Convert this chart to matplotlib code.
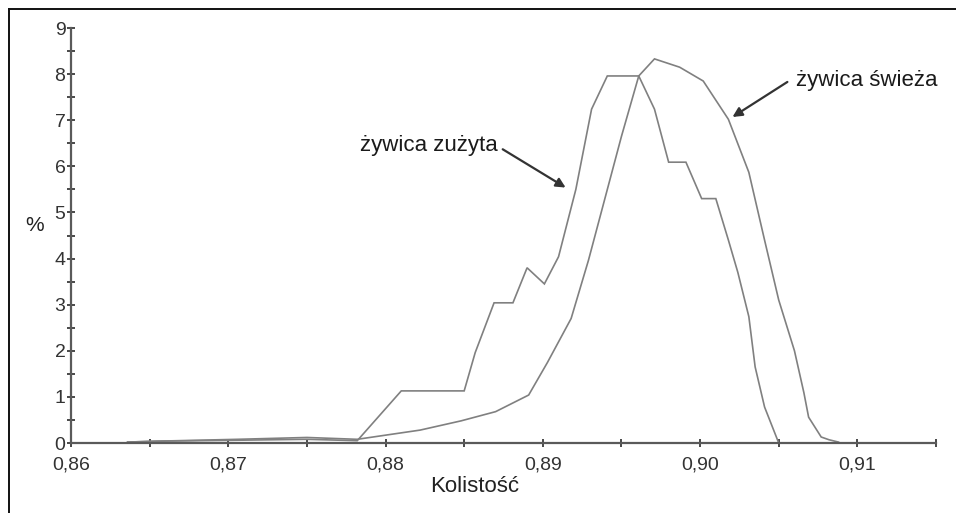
import matplotlib
matplotlib.use("Agg")
import matplotlib.pyplot as plt
from matplotlib.lines import Line2D
from matplotlib.ticker import MultipleLocator, FixedLocator, FixedFormatter

plt.rcParams['font.family'] = ['Liberation Sans', 'DejaVu Sans']

# Data
used_x = [0.8636, 0.8655, 0.8706, 0.8750, 0.8782, 0.8810, 0.8850, 0.8857, 0.8869,
          0.8881, 0.8890, 0.8901, 0.8910, 0.8921, 0.8931, 0.8941, 0.8961, 0.8971,
          0.8980, 0.8991, 0.9001, 0.9010, 0.9018, 0.9024, 0.9031, 0.9035, 0.9041, 0.9050]
used_y = [0.02, 0.04, 0.06, 0.08, 0.05, 1.13, 1.13, 1.96, 3.04,
          3.04, 3.80, 3.45, 4.04, 5.50, 7.24, 7.96, 7.96, 7.24,
          6.09, 6.09, 5.30, 5.30, 4.40, 3.70, 2.74, 1.65, 0.78, 0.00]

fresh_x = [0.8636, 0.8655, 0.8706, 0.8750, 0.8782, 0.8810, 0.8822, 0.8848, 0.8870,
           0.8891, 0.8903, 0.8918, 0.8929, 0.8950, 0.8961, 0.8971, 0.8987, 0.9002,
           0.9018, 0.9031, 0.9041, 0.9050, 0.9060, 0.9066, 0.9069, 0.9077, 0.9082, 0.9088]
fresh_y = [0.02, 0.04, 0.08, 0.12, 0.08, 0.22, 0.28, 0.48, 0.68,
           1.04, 1.75, 2.70, 3.96, 6.65, 7.96, 8.33, 8.15, 7.85,
           7.02, 5.87, 4.40, 3.10, 2.00, 1.09, 0.56, 0.13, 0.07, 0.02]

x_ticks = [0.86, 0.87, 0.88, 0.89, 0.90, 0.91]
x_tick_labels = ["0,86", "0,87", "0,88", "0,89", "0,90", "0,91"]
y_ticks = [0, 1, 2, 3, 4, 5, 6, 7, 8, 9]
label_used = "żywica zużyta"
label_fresh = "żywica świeża"

W, H = 956, 513
fig = plt.figure(figsize=(W / 100, H / 100), dpi=100)
fig.patch.set_facecolor('white')
ax = fig.add_axes([71 / W, 1 - 443 / H, (936 - 71) / W, (443 - 28) / H])

line_color = '#808080'
ax.plot(used_x, used_y, color=line_color, lw=1.2, solid_joinstyle='miter')
ax.plot(fresh_x, fresh_y, color=line_color, lw=1.2, solid_joinstyle='miter')

ax.set_xlim(0.86, 0.915)
ax.set_ylim(0, 9)

for s in ['top', 'right']:
    ax.spines[s].set_visible(False)
for s in ['left', 'bottom']:
    ax.spines[s].set_color('#5a5a5a')
    ax.spines[s].set_linewidth(1.6)

ax.xaxis.set_major_locator(FixedLocator(x_ticks))
ax.xaxis.set_major_formatter(FixedFormatter(x_tick_labels))
ax.xaxis.set_minor_locator(MultipleLocator(0.005))
ax.yaxis.set_major_locator(FixedLocator(y_ticks))
ax.yaxis.set_minor_locator(MultipleLocator(0.5))

ax.tick_params(axis='both', which='both', direction='inout', length=6, width=1.3,
               color='#3a3a3a')
ax.tick_params(axis='x', which='major', labelsize=14, labelcolor='#333333', pad=7)
ax.tick_params(axis='y', which='major', labelsize=14, labelcolor='#333333', pad=1)

ax.set_xlabel("Kolistość", fontsize=16, color='#222222', va='center')
ax.xaxis.set_label_coords(0.467, -0.104)
ax.set_ylabel("%", fontsize=15, rotation=0, color='#222222', va='center', ha='center')
ax.yaxis.set_label_coords(-0.042, 0.525)

ax.text(0.87836, 6.33, label_used, fontsize=16, color='#1a1a1a', ha='left', va='baseline')
ax.text(0.90612, 7.74, label_fresh, fontsize=16, color='#1a1a1a', ha='left', va='baseline')

arrow = dict(arrowstyle='-|>', color='#333333', lw=1.6, mutation_scale=14,
             shrinkA=0, shrinkB=0)
ax.annotate("", xy=(0.89145, 5.54), xytext=(0.88745, 6.37), arrowprops=arrow)
ax.annotate("", xy=(0.90206, 7.07), xytext=(0.90555, 7.83), arrowprops=arrow)

# Outer frame (top and left edges visible in the reference)
fig.add_artist(Line2D([8.5 / W, 8.5 / W], [0, 1 - 8.5 / H], transform=fig.transFigure,
                      color='#111111', lw=1.4))
fig.add_artist(Line2D([8.5 / W, 1], [1 - 8.5 / H, 1 - 8.5 / H], transform=fig.transFigure,
                      color='#111111', lw=1.4))

fig.savefig("out.png", dpi=100, facecolor='white')
